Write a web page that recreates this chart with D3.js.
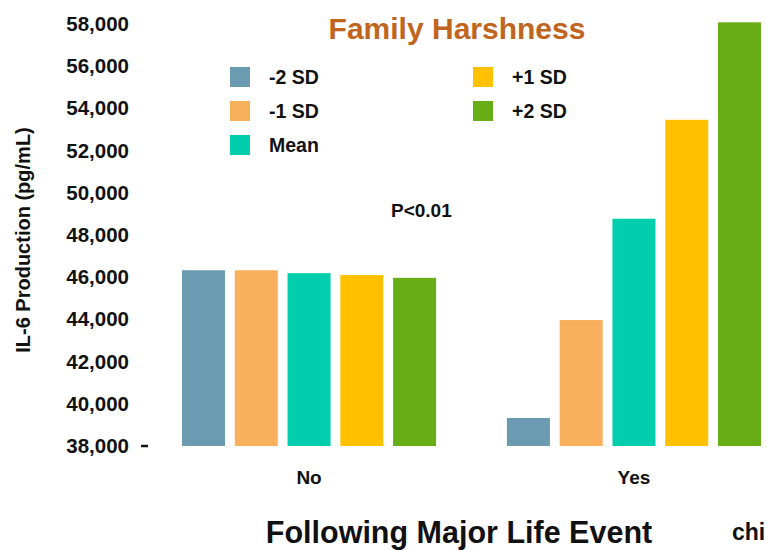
<!DOCTYPE html>
<html>
<head>
<meta charset="utf-8">
<script src="https://cdn.jsdelivr.net/npm/d3@7.9.0/dist/d3.min.js"></script>
<style>
  html, body { margin: 0; padding: 0; background: #fff; }
  svg { display: block; font-family: "Liberation Sans", Arial, sans-serif; font-weight: bold; }
</style>
</head>
<body>
<svg id="chart" width="767" height="550"></svg>
<script>
// ========== Data ==========

const groups = ['No', 'Yes'];
const series = ['-2 SD', '-1 SD', 'Mean', '+1 SD', '+2 SD'];
const colors = ['#6a9bb1', '#f9b05d', '#00cead', '#ffc100', '#67ae16'];

// IL-6 values per group, in series order
const noValues = [46330, 46330, 46190, 46100, 45970];
const yesValues = [39330, 43970, 48770, 53460, 58080];

const yTicks = [38000, 40000, 42000, 44000, 46000, 48000, 50000, 52000, 54000, 56000, 58000];

// legend layout: which series in which column
const legendLeft = ['-2 SD', '-1 SD', 'Mean'];
const legendRight = ['+1 SD', '+2 SD'];

const rows = groups.map((g, i) => ({
  group: g,
  values: series.map((s, j) => ({ key: s, value: (i === 0 ? noValues : yesValues)[j] }))
}));

// ========== Scales ==========

const svg = d3.select('#chart');

const y = d3.scaleLinear().domain([38000, 58000]).range([446, 24]);

const x0 = d3.scaleBand()
  .domain(groups)
  .range([182, 761])
  .paddingInner(0.218);

const x1 = d3.scaleBand()
  .domain(series)
  .range([0, x0.bandwidth()])
  .paddingInner(0.185);

const color = d3.scaleOrdinal().domain(series).range(colors);

// ========== Bars ==========

svg.append('g')
  .selectAll('g')
  .data(rows)
  .join('g')
  .attr('transform', (d) => `translate(${x0(d.group)},0)`)
  .selectAll('rect')
  .data((d) => d.values)
  .join('rect')
  .attr('x', (d) => x1(d.key))
  .attr('y', (d) => y(d.value))
  .attr('width', x1.bandwidth())
  .attr('height', (d) => y(38000) - y(d.value))
  .attr('fill', (d) => color(d.key));

// ========== Y axis ==========

const yAxis = svg.append('g')
  .attr('transform', 'translate(137,0)')
  .call(d3.axisLeft(y)
    .tickValues(yTicks)
    .tickSize(0)
    .tickPadding(8)
    .tickFormat(d3.format(',')));

yAxis.select('.domain').remove();
yAxis.selectAll('text')
  .attr('font-family', '"Liberation Sans", Arial, sans-serif')
  .attr('font-weight', 'bold')
  .attr('font-size', 20.5)
  .attr('fill', '#111');

// the little dash after 38,000
svg.append('line')
  .attr('x1', 141).attr('x2', 148)
  .attr('y1', y(38000)).attr('y2', y(38000))
  .attr('stroke', '#111')
  .attr('stroke-width', 2.5);

svg.append('text')
  .attr('transform', 'translate(30,240) rotate(-90)')
  .attr('text-anchor', 'middle')
  .attr('font-size', 20)
  .attr('fill', '#111')
  .text('IL-6 Production (pg/mL)');

// ========== X labels ==========

svg.append('g')
  .selectAll('text')
  .data(groups)
  .join('text')
  .attr('x', (d) => x0(d) + x0.bandwidth() / 2)
  .attr('y', 484)
  .attr('text-anchor', 'middle')
  .attr('font-size', 19)
  .attr('fill', '#111')
  .text((d) => d);

svg.append('text')
  .attr('x', 459)
  .attr('y', 543)
  .attr('text-anchor', 'middle')
  .attr('font-size', 30.5)
  .attr('fill', '#111')
  .text('Following Major Life Event');

svg.append('text')
  .attr('x', 732)
  .attr('y', 540)
  .attr('font-size', 23)
  .attr('fill', '#111')
  .text('chi');

// ========== Title, legend, annotation ==========

svg.append('text')
  .attr('x', 457)
  .attr('y', 39)
  .attr('text-anchor', 'middle')
  .attr('font-size', 30)
  .attr('fill', '#c1641d')
  .text('Family Harshness');

function drawLegend(keys, lx, ly) {
  const item = svg.append('g')
    .selectAll('g')
    .data(keys)
    .join('g')
    .attr('transform', (d, i) => `translate(${lx},${ly + i * 34})`);
  item.append('rect')
    .attr('width', 20)
    .attr('height', 20)
    .attr('fill', (d) => color(d));
  item.append('text')
    .attr('x', 39)
    .attr('y', 17)
    .attr('font-size', 19.5)
    .attr('fill', '#111')
    .text((d) => d);
}

drawLegend(legendLeft, 230, 67);
drawLegend(legendRight, 473, 67);

svg.append('text')
  .attr('x', 391)
  .attr('y', 217)
  .attr('font-size', 19)
  .attr('fill', '#111')
  .text('P<0.01');
</script>
</body>
</html>
